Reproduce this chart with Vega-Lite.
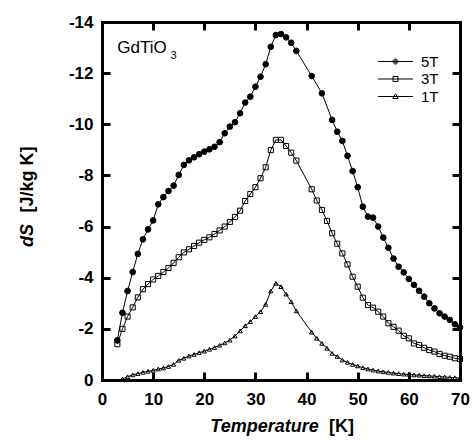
{
"$schema": "https://vega.github.io/schema/vega-lite/v6.json",
"width": 358, "height": 358,
"autosize": "none",
"padding": {"left": 102, "top": 22, "right": 13, "bottom": 61},
"data": {"values": [
{"T":3,"dS":-1.55,"B":"5T"},{"T":4,"dS":-2.63,"B":"5T"},{"T":5,"dS":-3.48,"B":"5T"},{"T":6,"dS":-4.22,"B":"5T"},{"T":7,"dS":-4.93,"B":"5T"},{"T":8,"dS":-5.5,"B":"5T"},{"T":9,"dS":-5.89,"B":"5T"},{"T":10,"dS":-6.24,"B":"5T"},{"T":11,"dS":-6.87,"B":"5T"},{"T":12,"dS":-7.15,"B":"5T"},{"T":13,"dS":-7.39,"B":"5T"},{"T":14,"dS":-7.6,"B":"5T"},{"T":15,"dS":-8.02,"B":"5T"},{"T":16,"dS":-8.41,"B":"5T"},{"T":17,"dS":-8.59,"B":"5T"},{"T":18,"dS":-8.71,"B":"5T"},{"T":19,"dS":-8.83,"B":"5T"},{"T":20,"dS":-8.93,"B":"5T"},{"T":21,"dS":-9.02,"B":"5T"},{"T":22,"dS":-9.12,"B":"5T"},{"T":23,"dS":-9.3,"B":"5T"},{"T":24,"dS":-9.65,"B":"5T"},{"T":25,"dS":-9.91,"B":"5T"},{"T":26,"dS":-10.08,"B":"5T"},{"T":27,"dS":-10.43,"B":"5T"},{"T":28,"dS":-10.85,"B":"5T"},{"T":29,"dS":-11.08,"B":"5T"},{"T":30,"dS":-11.47,"B":"5T"},{"T":31,"dS":-11.86,"B":"5T"},{"T":32,"dS":-12.35,"B":"5T"},{"T":33,"dS":-13.03,"B":"5T"},{"T":34,"dS":-13.49,"B":"5T"},{"T":35,"dS":-13.53,"B":"5T"},{"T":36,"dS":-13.4,"B":"5T"},{"T":37,"dS":-13.19,"B":"5T"},{"T":38,"dS":-12.87,"B":"5T"},{"T":41,"dS":-11.89,"B":"5T"},{"T":43,"dS":-11.21,"B":"5T"},{"T":45,"dS":-10.17,"B":"5T"},{"T":46,"dS":-9.71,"B":"5T"},{"T":47,"dS":-9.35,"B":"5T"},{"T":48,"dS":-8.77,"B":"5T"},{"T":49,"dS":-8.17,"B":"5T"},{"T":50,"dS":-7.54,"B":"5T"},{"T":51,"dS":-6.78,"B":"5T"},{"T":52,"dS":-6.39,"B":"5T"},{"T":53,"dS":-6.35,"B":"5T"},{"T":54,"dS":-6.0,"B":"5T"},{"T":55,"dS":-5.57,"B":"5T"},{"T":56,"dS":-5.17,"B":"5T"},{"T":57,"dS":-4.75,"B":"5T"},{"T":58,"dS":-4.43,"B":"5T"},{"T":59,"dS":-4.21,"B":"5T"},{"T":60,"dS":-3.95,"B":"5T"},{"T":61,"dS":-3.72,"B":"5T"},{"T":62,"dS":-3.49,"B":"5T"},{"T":63,"dS":-3.26,"B":"5T"},{"T":64,"dS":-3.0,"B":"5T"},{"T":65,"dS":-2.8,"B":"5T"},{"T":66,"dS":-2.61,"B":"5T"},{"T":67,"dS":-2.48,"B":"5T"},{"T":68,"dS":-2.35,"B":"5T"},{"T":69,"dS":-2.18,"B":"5T"},{"T":70,"dS":-2.06,"B":"5T"},
{"T":3,"dS":-1.4,"B":"3T"},{"T":4,"dS":-2.0,"B":"3T"},{"T":5,"dS":-2.48,"B":"3T"},{"T":6,"dS":-2.84,"B":"3T"},{"T":7,"dS":-3.23,"B":"3T"},{"T":8,"dS":-3.55,"B":"3T"},{"T":9,"dS":-3.75,"B":"3T"},{"T":10,"dS":-3.93,"B":"3T"},{"T":11,"dS":-4.07,"B":"3T"},{"T":12,"dS":-4.22,"B":"3T"},{"T":13,"dS":-4.38,"B":"3T"},{"T":14,"dS":-4.58,"B":"3T"},{"T":15,"dS":-4.8,"B":"3T"},{"T":16,"dS":-4.99,"B":"3T"},{"T":17,"dS":-5.11,"B":"3T"},{"T":18,"dS":-5.24,"B":"3T"},{"T":19,"dS":-5.37,"B":"3T"},{"T":20,"dS":-5.48,"B":"3T"},{"T":21,"dS":-5.58,"B":"3T"},{"T":22,"dS":-5.71,"B":"3T"},{"T":23,"dS":-5.85,"B":"3T"},{"T":24,"dS":-6.0,"B":"3T"},{"T":25,"dS":-6.18,"B":"3T"},{"T":26,"dS":-6.38,"B":"3T"},{"T":27,"dS":-6.62,"B":"3T"},{"T":28,"dS":-7.0,"B":"3T"},{"T":29,"dS":-7.27,"B":"3T"},{"T":30,"dS":-7.54,"B":"3T"},{"T":31,"dS":-7.89,"B":"3T"},{"T":32,"dS":-8.32,"B":"3T"},{"T":33,"dS":-8.99,"B":"3T"},{"T":34,"dS":-9.39,"B":"3T"},{"T":35,"dS":-9.39,"B":"3T"},{"T":36,"dS":-9.15,"B":"3T"},{"T":37,"dS":-8.89,"B":"3T"},{"T":38,"dS":-8.58,"B":"3T"},{"T":41,"dS":-7.46,"B":"3T"},{"T":42,"dS":-7.02,"B":"3T"},{"T":43,"dS":-6.65,"B":"3T"},{"T":44,"dS":-6.22,"B":"3T"},{"T":45,"dS":-5.74,"B":"3T"},{"T":46,"dS":-5.33,"B":"3T"},{"T":47,"dS":-4.95,"B":"3T"},{"T":48,"dS":-4.52,"B":"3T"},{"T":49,"dS":-4.04,"B":"3T"},{"T":50,"dS":-3.65,"B":"3T"},{"T":51,"dS":-3.22,"B":"3T"},{"T":52,"dS":-2.93,"B":"3T"},{"T":53,"dS":-2.83,"B":"3T"},{"T":54,"dS":-2.67,"B":"3T"},{"T":55,"dS":-2.48,"B":"3T"},{"T":56,"dS":-2.22,"B":"3T"},{"T":57,"dS":-2.08,"B":"3T"},{"T":58,"dS":-1.93,"B":"3T"},{"T":59,"dS":-1.73,"B":"3T"},{"T":60,"dS":-1.63,"B":"3T"},{"T":61,"dS":-1.43,"B":"3T"},{"T":62,"dS":-1.37,"B":"3T"},{"T":63,"dS":-1.26,"B":"3T"},{"T":64,"dS":-1.17,"B":"3T"},{"T":65,"dS":-1.11,"B":"3T"},{"T":66,"dS":-1.02,"B":"3T"},{"T":67,"dS":-0.95,"B":"3T"},{"T":68,"dS":-0.91,"B":"3T"},{"T":69,"dS":-0.85,"B":"3T"},{"T":70,"dS":-0.82,"B":"3T"},
{"T":4,"dS":-0.04,"B":"1T"},{"T":5,"dS":-0.13,"B":"1T"},{"T":6,"dS":-0.2,"B":"1T"},{"T":7,"dS":-0.25,"B":"1T"},{"T":8,"dS":-0.3,"B":"1T"},{"T":9,"dS":-0.34,"B":"1T"},{"T":10,"dS":-0.38,"B":"1T"},{"T":11,"dS":-0.43,"B":"1T"},{"T":12,"dS":-0.47,"B":"1T"},{"T":13,"dS":-0.53,"B":"1T"},{"T":14,"dS":-0.61,"B":"1T"},{"T":15,"dS":-0.77,"B":"1T"},{"T":16,"dS":-0.85,"B":"1T"},{"T":17,"dS":-0.94,"B":"1T"},{"T":18,"dS":-1.0,"B":"1T"},{"T":19,"dS":-1.07,"B":"1T"},{"T":20,"dS":-1.13,"B":"1T"},{"T":21,"dS":-1.2,"B":"1T"},{"T":22,"dS":-1.27,"B":"1T"},{"T":23,"dS":-1.36,"B":"1T"},{"T":24,"dS":-1.45,"B":"1T"},{"T":25,"dS":-1.56,"B":"1T"},{"T":26,"dS":-1.72,"B":"1T"},{"T":27,"dS":-1.92,"B":"1T"},{"T":28,"dS":-2.12,"B":"1T"},{"T":29,"dS":-2.28,"B":"1T"},{"T":30,"dS":-2.48,"B":"1T"},{"T":31,"dS":-2.67,"B":"1T"},{"T":32,"dS":-2.96,"B":"1T"},{"T":33,"dS":-3.48,"B":"1T"},{"T":34,"dS":-3.78,"B":"1T"},{"T":35,"dS":-3.65,"B":"1T"},{"T":36,"dS":-3.36,"B":"1T"},{"T":37,"dS":-3.06,"B":"1T"},{"T":38,"dS":-2.7,"B":"1T"},{"T":41,"dS":-1.87,"B":"1T"},{"T":42,"dS":-1.63,"B":"1T"},{"T":43,"dS":-1.43,"B":"1T"},{"T":44,"dS":-1.24,"B":"1T"},{"T":45,"dS":-1.04,"B":"1T"},{"T":46,"dS":-0.92,"B":"1T"},{"T":47,"dS":-0.78,"B":"1T"},{"T":48,"dS":-0.69,"B":"1T"},{"T":49,"dS":-0.61,"B":"1T"},{"T":50,"dS":-0.55,"B":"1T"},{"T":51,"dS":-0.48,"B":"1T"},{"T":52,"dS":-0.43,"B":"1T"},{"T":53,"dS":-0.39,"B":"1T"},{"T":54,"dS":-0.35,"B":"1T"},{"T":55,"dS":-0.32,"B":"1T"},{"T":56,"dS":-0.3,"B":"1T"},{"T":57,"dS":-0.27,"B":"1T"},{"T":58,"dS":-0.25,"B":"1T"},{"T":59,"dS":-0.23,"B":"1T"},{"T":60,"dS":-0.22,"B":"1T"},{"T":61,"dS":-0.2,"B":"1T"},{"T":62,"dS":-0.19,"B":"1T"},{"T":63,"dS":-0.17,"B":"1T"},{"T":64,"dS":-0.16,"B":"1T"},{"T":65,"dS":-0.15,"B":"1T"},{"T":66,"dS":-0.13,"B":"1T"},{"T":67,"dS":-0.12,"B":"1T"},{"T":68,"dS":-0.1,"B":"1T"},{"T":69,"dS":-0.09,"B":"1T"},{"T":70,"dS":-0.07,"B":"1T"}
]},
"layer": [
{
"mark": {"type": "line", "color": "black", "strokeWidth": 1},
"encoding": {
"x": {"field": "T", "type": "quantitative", "scale": {"domain": [0, 70], "nice": false},
"axis": {"orient": "bottom", "values": [0,10,20,30,40,50,60,70], "ticks": false, "labelPadding": 11,
"title": "Temperature", "titleFontStyle": "italic", "titleX": 162, "titleY": 51, "titleAlign": "center", "titleBaseline": "alphabetic", "titleAngle": 0}},
"y": {"field": "dS", "type": "quantitative", "scale": {"domain": [-14, 0], "reverse": true, "nice": false},
"axis": {"orient": "left", "values": [-14,-12,-10,-8,-6,-4,-2,0], "ticks": false, "labelPadding": 9, "labelExpr": "'' + datum.value",
"title": "dS", "titleFontStyle": "italic", "titleX": -69.5, "titleY": 213, "titleAlign": "center", "titleBaseline": "alphabetic", "titleAngle": 270}},
"detail": {"field": "B"}
}
},
{
"mark": {"type": "point", "stroke": "black", "strokeWidth": 1, "opacity": 1},
"encoding": {
"x": {"field": "T", "type": "quantitative", "scale": {"domain": [0, 70], "nice": false},
"axis": {"orient": "top", "values": [10,20,30,40,50,60], "labels": false,
"tickColor": "black", "tickSize": -8,
"title": "GdTiO", "titleFontWeight": "normal", "titleFontSize": 17, "titleX": 14.7, "titleY": 30, "titleAlign": "left", "titleBaseline": "alphabetic", "titleAngle": 0}},
"y": {"field": "dS", "type": "quantitative", "scale": {"domain": [-14, 0], "reverse": true, "nice": false},
"axis": {"orient": "right", "values": [-12,-10,-8,-6,-4,-2], "labels": false,
"tickColor": "black", "tickSize": -8,
"title": "3", "titleFontWeight": "normal", "titleFontSize": 11, "titleX": -290, "titleY": 36.7, "titleAlign": "left", "titleBaseline": "alphabetic", "titleAngle": 0}},
"shape": {"field": "B", "type": "nominal",
"scale": {"domain": ["5T", "3T", "1T"], "range": ["circle", "square", "triangle-up"]},
"legend": null},
"fill": {"condition": {"test": "datum.B === '5T'", "value": "black"}, "value": "transparent"},
"size": {"condition": [{"test": "datum.B === '5T'", "value": 32}, {"test": "datum.B === '3T'", "value": 26}], "value": 18}
}
},
{
"transform": [{"filter": "false"}],
"mark": {"type": "point", "filled": false, "stroke": "black", "strokeWidth": 1, "opacity": 1},
"encoding": {
"x": {"field": "T", "type": "quantitative", "scale": {"domain": [0, 70], "nice": false},
"axis": {"orient": "bottom", "values": [10,20,30,40,50,60], "domain": false, "labels": false,
"tickColor": "black", "tickSize": -8,
"title": "[K]", "titleX": 239, "titleY": 51, "titleAlign": "center", "titleBaseline": "alphabetic", "titleAngle": 0}},
"y": {"field": "dS", "type": "quantitative", "scale": {"domain": [-14, 0], "reverse": true, "nice": false},
"axis": {"orient": "left", "values": [-12,-10,-8,-6,-4,-2], "domain": false, "labels": false,
"tickColor": "black", "tickSize": -8,
"title": "[J/kg K]", "titleX": -69.5, "titleY": 157, "titleAlign": "center", "titleBaseline": "alphabetic", "titleAngle": 270}},
"shape": {"field": "B", "type": "nominal",
"scale": {"domain": ["5T", "3T", "1T"], "range": ["M-3.5,0H3.5M-0.5,0A0.5,0.5,0,1,1,0.5,0A0.5,0.5,0,1,1,-0.5,0M-0.3,0A0.3,0.3,0,1,1,0.3,0A0.3,0.3,0,1,1,-0.3,0M-0.1,0A0.1,0.1,0,1,1,0.1,0A0.1,0.1,0,1,1,-0.1,0", "M-3.5,0H3.5M-0.5,-0.5H0.5V0.5H-0.5Z", "M-3.5,0H3.5M0,-0.55L0.55,0.4L-0.55,0.4Z"]},
"legend": {"orient": "none", "legendX": 269, "legendY": 32, "title": null, "padding": 0,
"labelFont": "Liberation Sans", "labelFontSize": 15, "labelFontWeight": "normal", "labelColor": "black",
"symbolSize": 100, "symbolOffset": 17, "labelOffset": 18, "rowPadding": 1.5,
"symbolStrokeColor": "black", "symbolStrokeWidth": 1, "symbolOpacity": 1, "symbolFillColor": "transparent"}}
}
}
],
"resolve": {"axis": {"x": "independent", "y": "independent"}, "scale": {"shape": "independent"}, "legend": {"shape": "independent"}},
"config": {
"view": {"stroke": null},
"axis": {
"grid": false,
"domainColor": "black", "domainWidth": 3, "domainCap": "square", "tickWidth": 3,
"labelFont": "Liberation Sans", "labelFontWeight": "bold", "labelFontSize": 17,
"labelFlush": false, "labelBound": false, "labelOverlap": false,
"titleFont": "Liberation Sans", "titleFontSize": 18, "titleFontWeight": "bold"
}
}
}
